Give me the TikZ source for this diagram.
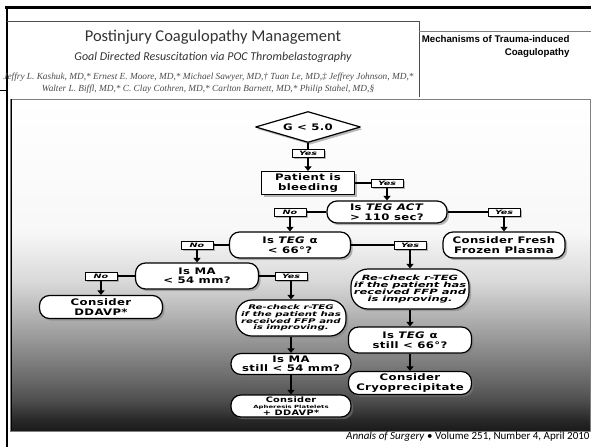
\documentclass[tikz,border=0pt]{standalone}
\usepackage{fontspec}
\setmainfont{Liberation Serif}
\newfontfamily\flowfont{DejaVu Sans}[FakeStretch=1.3,LetterSpace=4]
\newfontfamily\notefont{DejaVu Sans}[FakeStretch=1.6]
\newfontfamily\headfont{Carlito}
\newfontfamily\boxfont{Liberation Sans}
\usetikzlibrary{arrows.meta,shapes.geometric,shadows}

\pgfdeclareverticalshading{panelshade}{100bp}{color(0bp)=(black!90); color(25bp)=(black!90);
  color(26.7bp)=(black!84); color(29.7bp)=(black!69); color(32.7bp)=(black!59);
  color(40bp)=(black!37); color(47.5bp)=(black!15); color(55bp)=(black!3);
  color(75bp)=(white); color(100bp)=(white)}

\begin{document}
\begin{tikzpicture}[
    x = 1pt, y = -1pt,
    line join=round,
    box/.style = {draw, line width=1.2pt, fill=white, inner sep=0pt, align=center,
        font=\flowfont\bfseries\fontsize{9}{9.5}\selectfont,
        drop shadow={shadow xshift=2.2pt, shadow yshift=-2.2pt, opacity=0.55}},
    oval/.style = {box, rounded corners=10pt},
    recheck/.style = {box, rounded corners=17pt,
        font=\notefont\bfseries\itshape\fontsize{7.2}{7.3}\selectfont},
    answer/.style = {box, line width=0.9pt, minimum width=32pt, minimum height=8pt,
        font=\notefont\bfseries\itshape\fontsize{6}{6}\selectfont},
    link/.style = {line width=1.2pt},
    stem/.style = {line width=2.2pt},
    flow/.style = {line width=2.2pt, -{Triangle[width=7pt,length=4.5pt]}}
]

    \useasboundingbox (0,0) rectangle (591,447);
    \fill[white] (0,0) rectangle (591,447);

    % page frame and header
    \draw[line width=3pt] (5,7) -- (591,7);
    \draw[line width=2.5pt] (7,7) -- (7,447);
    \draw[black!70, line width=0.6pt] (7,21) -- (419,21) -- (419,97);
    \draw[black!50, line width=0.6pt] (419,31) -- (591,31);
    \draw[line width=0.8pt] (0,90) -- (7,90);

    \node[font=\headfont\fontsize{16.5}{18}\selectfont, text=black!80] (title) at (213,37)
        {Postinjury Coagulopathy Management};
    \node[font=\headfont\itshape\fontsize{12}{14}\selectfont, text=black!80] (subtitle) at (213,57)
        {Goal Directed Resuscitation via POC Thrombelastography};
    \node[font=\itshape\fontsize{9.3}{11}\selectfont, text=black!70, anchor=east] (authorsa) at (417,77)
        {Jeffry L. Kashuk, MD,* Ernest E. Moore, MD,* Michael Sawyer, MD,† Tuan Le, MD,‡ Jeffrey Johnson, MD,*};
    \node[font=\itshape\fontsize{9.3}{11}\selectfont, text=black!70] (authorsb) at (208,89)
        {Walter L. Biffl, MD,* C. Clay Cothren, MD,* Carlton Barnett, MD,* Philip Stahel, MD,§};
    \node[font=\boxfont\bfseries\fontsize{9.7}{13}\selectfont, align=right, anchor=east] (section) at (573,46.5)
        {Mechanisms of Trauma-induced\\Coagulopathy};

    % flowchart panel
    \shade[shading=panelshade, draw=black!50, line width=1pt] (10,99) rectangle (590,431);
    \draw[line width=1.5pt] (11.5,99) -- (11.5,431);

    \node[box, diamond, aspect=3.4, minimum width=105pt, minimum height=31pt] (g) at (308,127) {G < 5.0};
    \node[answer] (y1) at (308,153) {Yes};
    \node[box, minimum width=93pt, minimum height=23pt] (pat) at (308,183) {Patient is\\bleeding};
    \node[answer] (y2) at (387,183) {Yes};
    \node[oval, minimum width=120pt, minimum height=22pt] (act) at (387,212) {Is \textit{TEG ACT}\\> 110 sec?};
    \node[answer] (y3) at (504,212) {Yes};
    \node[oval, minimum width=122pt, minimum height=26pt] (ffp) at (504,245) {Consider Fresh\\Frozen Plasma};
    \node[answer] (n1) at (290,212) {No};
    \node[oval, minimum width=121pt, minimum height=26pt] (alpha) at (290,245) {Is \textit{TEG} α\\< 66°?};
    \node[answer] (n2) at (197,245) {No};
    \node[oval, minimum width=123pt, minimum height=26pt] (ma) at (197,276) {Is MA\\< 54 mm?};
    \node[answer] (n3) at (101,276) {No};
    \node[oval, minimum width=123pt, minimum height=23pt] (ddavp) at (101,307) {Consider\\DDAVP*};
    \node[answer] (y5) at (291,276) {Yes};
    \node[recheck, minimum width=110pt, minimum height=36pt, rounded corners=16pt,
        font=\notefont\bfseries\itshape\fontsize{6.4}{6.6}\selectfont]
        (rcL) at (291,318) {Re-check r-TEG\\if the patient has\\received FFP and\\is improving.};
    \node[oval, minimum width=120pt, minimum height=21pt] (ma2) at (291,364) {Is MA\\still < 54 mm?};
    \node[oval, minimum width=120pt, minimum height=22pt, font=\flowfont\bfseries\fontsize{7.5}{6.5}\selectfont]
        (plt) at (291,406) {Consider\\{\notefont\fontsize{4.3}{5}\selectfont Apheresis Platelets}\\+ DDAVP*};
    \node[answer] (y4) at (410,245) {Yes};
    \node[recheck, minimum width=118pt, minimum height=40pt] (rcR) at (410,289)
        {Re-check r-TEG\\if the patient has\\received FFP and\\is improving.};
    \node[oval, minimum width=123pt, minimum height=26pt] (alpha2) at (410,340) {Is \textit{TEG} α\\still < 66°?};
    \node[oval, minimum width=123pt, minimum height=23pt] (cryo) at (410,383) {Consider\\Cryoprecipitate};

    \draw[stem] (g.south) -- (y1.north);
    \draw[flow] (y1.south) -- (pat.north);
    \draw[link] (pat.east) -- (y2.west);
    \draw[flow] (y2.south) -- (act.north);
    \draw[link] (act.east) -- (y3.west);
    \draw[flow] (y3.south) -- (ffp.north);
    \draw[link] (act.west) -- (n1.east);
    \draw[flow] (n1.south) -- (alpha.north);
    \draw[link] (alpha.west) -- (n2.east);
    \draw[flow] (n2.south) -- (ma.north);
    \draw[link] (alpha.east) -- (y4.west);
    \draw[flow] (y4.south) -- (rcR.north);
    \draw[link] (ma.west) -- (n3.east);
    \draw[flow] (n3.south) -- (ddavp.north);
    \draw[link] (ma.east) -- (y5.west);
    \draw[flow] (y5.south) -- (rcL.north);
    \draw[flow] (rcL.south) -- (ma2.north);
    \draw[flow] (ma2.south) -- (plt.north);
    \draw[flow] (rcR.south) -- (alpha2.north);
    \draw[flow] (alpha2.south) -- (cryo.north);

    \node[font=\headfont\fontsize{11}{13}\selectfont, anchor=east] (footer) at (593,437)
        {\textit{Annals of Surgery} • Volume 251, Number 4, April 2010};

\end{tikzpicture}
\end{document}
